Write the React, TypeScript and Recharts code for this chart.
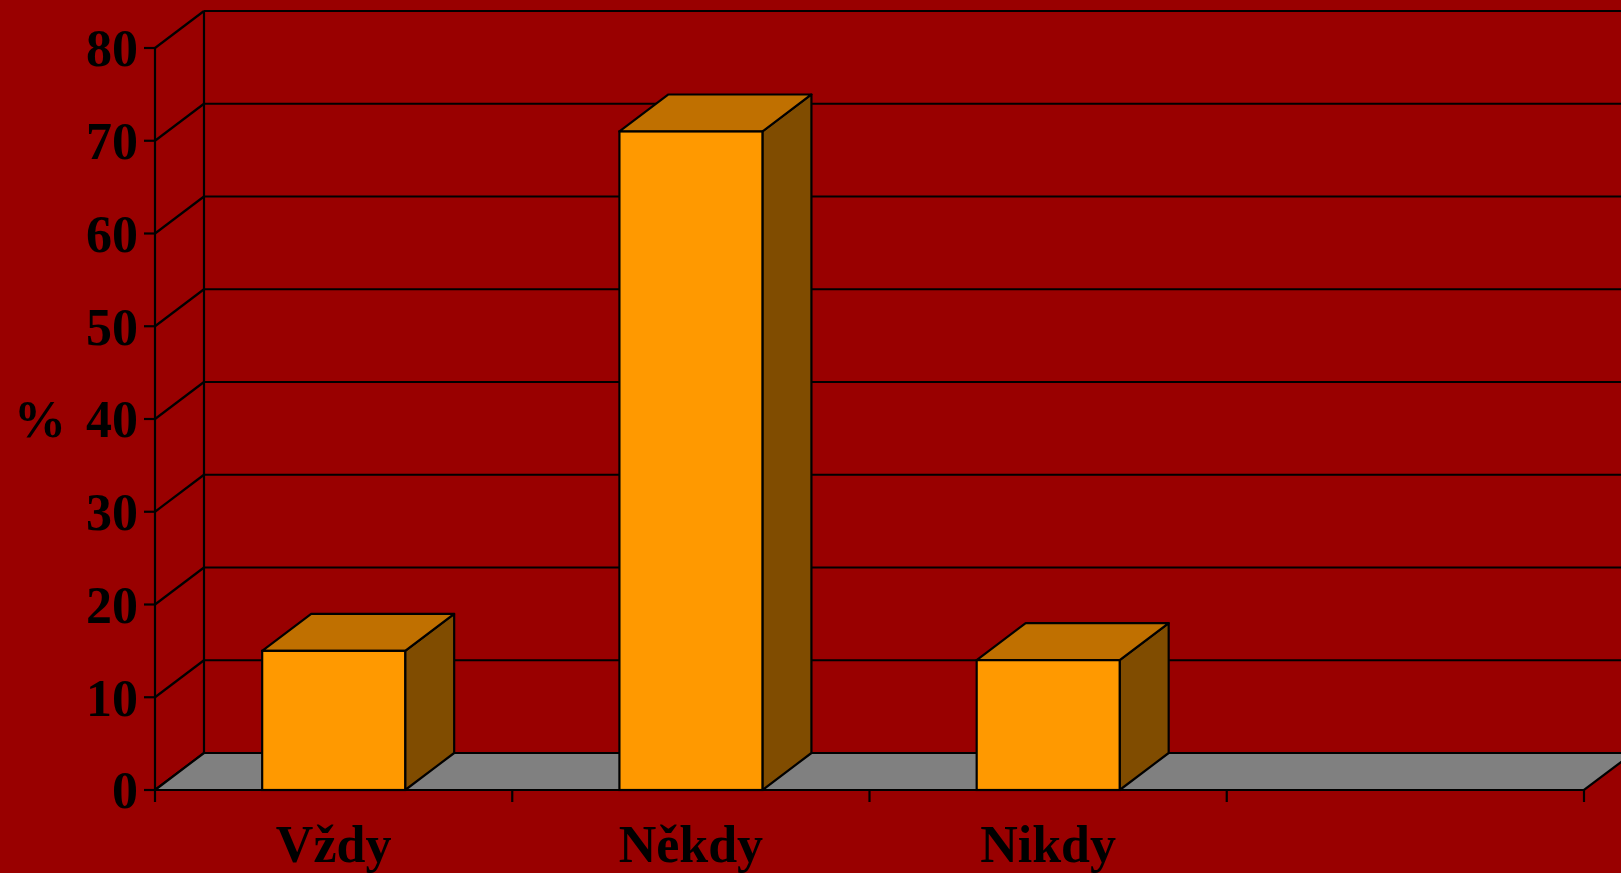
import { BarChart, Bar, XAxis, YAxis, CartesianGrid, ReferenceArea, Label } from 'recharts';

const categories = ['Vždy', 'Někdy', 'Nikdy', ''];
const percentages: (number | null)[] = [15, 71, 14, null];
const yTicks = [0, 10, 20, 30, 40, 50, 60, 70, 80];

const data = categories.map((name, i) => ({ name, value: percentages[i] }));

const W = 1621;
const H = 873;
const MARGIN = { top: 48, right: 37, bottom: 0, left: 0 };
const Y_AXIS_W = 155;
const X_AXIS_H = 83;
const DX = 49; // depth offset of the 3D effect
const DY = 37;
const BG = '#990000';
const FONT = '"Liberation Serif", "Times New Roman", serif';
const FONT_SIZE = 52;
const LINE_W = 2.2;

const HALF_BAND = (W - MARGIN.left - MARGIN.right - Y_AXIS_W) / categories.length / 2;

// back wall grid line + the diagonal joining it to the y axis
const gridLine = (props: any) => {
  const { x1, y1, x2 } = props;
  return (
    <g key={props.key ?? `grid-${y1}`}>
      <line x1={x1} y1={y1} x2={x1 + DX} y2={y1 - DY} stroke="#000" strokeWidth={LINE_W} />
      <line x1={x1 + DX} y1={y1 - DY} x2={x2 + DX} y2={y1 - DY} stroke="#000" strokeWidth={LINE_W} />
    </g>
  );
};

// left wall edge and grey floor
const Walls = (props: any) => {
  const { x, y, width, height } = props;
  const bottom = y + height;
  const floor = `${x},${bottom} ${x + width},${bottom} ${x + width + DX},${bottom - DY} ${x + DX},${bottom - DY}`;
  return (
    <g>
      <line x1={x + DX} y1={y - DY} x2={x + DX} y2={bottom - DY} stroke="#000" strokeWidth={LINE_W} />
      <polygon points={floor} fill="#808080" stroke="#000" strokeWidth={LINE_W} />
    </g>
  );
};

const Box3D = (props: any) => {
  const { x, y, width, height, value } = props;
  if (value == null || !width) return <g />;
  const top = `${x},${y} ${x + width},${y} ${x + width + DX},${y - DY} ${x + DX},${y - DY}`;
  const side = `${x + width},${y} ${x + width},${y + height} ${x + width + DX},${y + height - DY} ${x + width + DX},${y - DY}`;
  return (
    <g>
      <polygon points={side} fill="#804C00" stroke="#000" strokeWidth={LINE_W} strokeLinejoin="round" />
      <polygon points={top} fill="#C07000" stroke="#000" strokeWidth={LINE_W} strokeLinejoin="round" />
      <rect x={x} y={y} width={width} height={height} fill="#FF9900" stroke="#000" strokeWidth={LINE_W} />
    </g>
  );
};

const XTick = (props: any) => {
  const { x, y, payload, index } = props;
  const last = index === categories.length - 1;
  return (
    <g>
      <line x1={x - HALF_BAND} y1={y} x2={x - HALF_BAND} y2={y + 12} stroke="#000" strokeWidth={LINE_W} />
      {last && <line x1={x + HALF_BAND} y1={y} x2={x + HALF_BAND} y2={y + 12} stroke="#000" strokeWidth={LINE_W} />}
      <text x={x} y={y + 72} textAnchor="middle" fill="#000" fontSize={FONT_SIZE} fontWeight="bold" fontFamily={FONT}>
        {payload.value}
      </text>
    </g>
  );
};

export default function App() {
  return (
    <div style={{ position: 'fixed', left: 0, top: 0, width: W, height: H, background: BG, overflow: 'hidden' }}>
      <BarChart width={W} height={H} data={data} margin={MARGIN} barCategoryGap="30%">
        <CartesianGrid vertical={false} horizontal={gridLine} />
        <ReferenceArea y1={0} y2={80} shape={<Walls />} />
        <XAxis
          dataKey="name"
          height={X_AXIS_H}
          interval={0}
          axisLine={false}
          tickLine={false}
          tickSize={0}
          tickMargin={0}
          tick={<XTick />}
        />
        <YAxis
          domain={[0, 80]}
          ticks={yTicks}
          interval={0}
          width={Y_AXIS_W}
          tickSize={11}
          tickMargin={6}
          axisLine={{ stroke: '#000', strokeWidth: LINE_W }}
          tickLine={{ stroke: '#000', strokeWidth: LINE_W }}
          tick={{ fill: '#000', fontSize: FONT_SIZE, fontWeight: 'bold', fontFamily: FONT }}
        >
          <Label
            value="%"
            position="insideLeft"
            offset={14}
            fill="#000"
            fontSize={FONT_SIZE}
            fontWeight="bold"
            fontFamily={FONT}
          />
        </YAxis>
        <Bar dataKey="value" isAnimationActive={false} shape={<Box3D />} />
      </BarChart>
    </div>
  );
}
